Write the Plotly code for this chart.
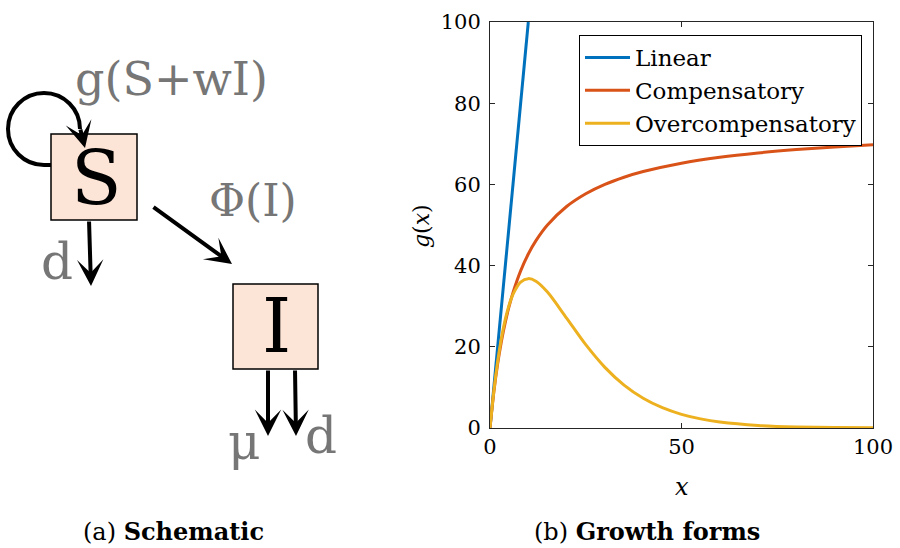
import plotly.graph_objects as go

# ---- data ----
lin_x = [0, 10]
lin_y = [0, 100]

comp_x = [0, 1, 2, 3, 4, 5, 6, 8, 10, 12, 15, 20, 25, 30, 35, 40, 50, 60, 70, 80, 90, 100]
comp_y = [0, 8.82, 15.79, 21.43, 26.09, 30.0, 33.33, 38.71, 42.86, 46.15, 50.0, 54.55,
          57.69, 60.0, 61.76, 63.16, 65.22, 66.67, 67.74, 68.57, 69.23, 69.77]

over_x = [0, 1, 2, 3, 4, 5, 6, 8, 10, 12, 15, 20, 25, 30, 35, 40, 45, 50, 55, 60, 70, 80, 90, 100]
over_y = [0, 9.05, 16.37, 22.22, 26.81, 30.33, 32.93, 35.95, 36.79, 36.14, 33.47, 27.07,
          20.52, 14.94, 10.57, 7.33, 5.00, 3.37, 2.25, 1.49, 0.64, 0.27, 0.11, 0.05]

series_names = ["Linear", "Compensatory", "Overcompensatory"]
series_colors = ["#0072BD", "#D95319", "#EDB120"]

x_ticks = [0, 50, 100]
y_ticks = [0, 20, 40, 60, 80, 100]

SERIF = "DejaVu Serif"
GREY = "#767676"
W, H = 900, 548

def px(x):
    return x / W

def py(y):
    return 1 - y / H

fig = go.Figure()
for xs, ys, name, col in zip([lin_x, comp_x, over_x], [lin_y, comp_y, over_y],
                             series_names, series_colors):
    fig.add_trace(go.Scatter(x=xs, y=ys, mode="lines", name=name,
                             line=dict(color=col, width=3, shape="spline", smoothing=0.8),
                             cliponaxis=True))

axcommon = dict(showline=True, linecolor="#262626", linewidth=1, mirror="ticks",
                ticks="inside", ticklen=5, tickcolor="#262626", showgrid=False,
                zeroline=False, tickfont=dict(family=SERIF, size=21, color="black"))

fig.update_layout(
    width=W, height=H,
    margin=dict(l=0, r=0, t=0, b=0, autoexpand=False),
    paper_bgcolor="white", plot_bgcolor="white",
    font=dict(family=SERIF),
    xaxis=dict(domain=[px(490), px(873)], range=[0, 100], tickvals=x_ticks, **axcommon),
    yaxis=dict(domain=[py(428), py(22)], range=[0, 100], tickvals=y_ticks,
               ticklabelstandoff=4, **axcommon),
    legend=dict(x=px(862), xanchor="right", y=py(35), yanchor="top",
                bgcolor="white", bordercolor="black", borderwidth=1,
                font=dict(family=SERIF, size=23, color="black"),
                itemwidth=45, tracegroupgap=0),
    showlegend=True,
)

shapes = []
for (x0, y0, x1, y1) in [(51, 134, 137, 220), (233, 284, 318, 369)]:
    shapes.append(dict(type="rect", xref="paper", yref="paper", x0=px(x0), y0=py(y0),
                       x1=px(x1), y1=py(y1), fillcolor="#FCE4D6",
                       line=dict(color="black", width=1.5), layer="below"))

def P(x, y):
    return f"{px(x):.5f},{py(y):.5f}"

loop = ("M " + P(51, 165) + " L " + P(44, 165) +
        " C " + P(24.1, 165) + " " + P(8, 148.9) + " " + P(8, 129) +
        " C " + P(8, 109.1) + " " + P(24.1, 93) + " " + P(44, 93) +
        " C " + P(63.9, 93) + " " + P(80, 109.1) + " " + P(80, 129))
shapes.append(dict(type="path", xref="paper", yref="paper", path=loop,
                   line=dict(color="black", width=4)))
fig.update_layout(shapes=shapes)

ann = []
def arrow(x0, y0, x1, y1):
    ann.append(dict(xref="paper", yref="paper", axref="pixel", ayref="pixel",
                    x=px(x1), y=py(y1), ax=x0 - x1, ay=y0 - y1,
                    text="", showarrow=True, arrowhead=3, arrowsize=1.1, arrowwidth=4,
                    arrowcolor="black", standoff=0, startstandoff=0))
arrow(80, 128, 85, 148)
arrow(89, 220, 91, 286)
arrow(152, 206, 232, 264)
arrow(268, 369, 268, 436)
arrow(295, 369, 296, 436)

def label(x, y, t, size, color=GREY, angle=0):
    ann.append(dict(xref="paper", yref="paper", x=px(x), y=py(y), text=t, showarrow=False,
                    font=dict(family=SERIF, size=size, color=color), textangle=angle,
                    xanchor="center", yanchor="middle"))
label(171, 79, "g(S+wI)", 46)
label(253, 200, "Φ(I)", 44)
label(57, 262, "d", 50)
label(245, 442, "μ", 50)
label(321, 436, "d", 50)
label(96, 178, "S", 74, color="black")
label(276, 326, "I", 74, color="black")

label(421, 226, "<i>g</i>(<i>x</i>)", 22, color="black", angle=-90)
label(682, 487, "<i>x</i>", 24, color="black")
label(173, 531, "(a) <b>Schematic</b>", 24, color="black")
label(647, 531, "(b) <b>Growth forms</b>", 24, color="black")
fig.update_layout(annotations=ann)

fig.write_html("out.html", config={"displayModeBar": False},
               post_script="document.body.style.margin='0px';")
